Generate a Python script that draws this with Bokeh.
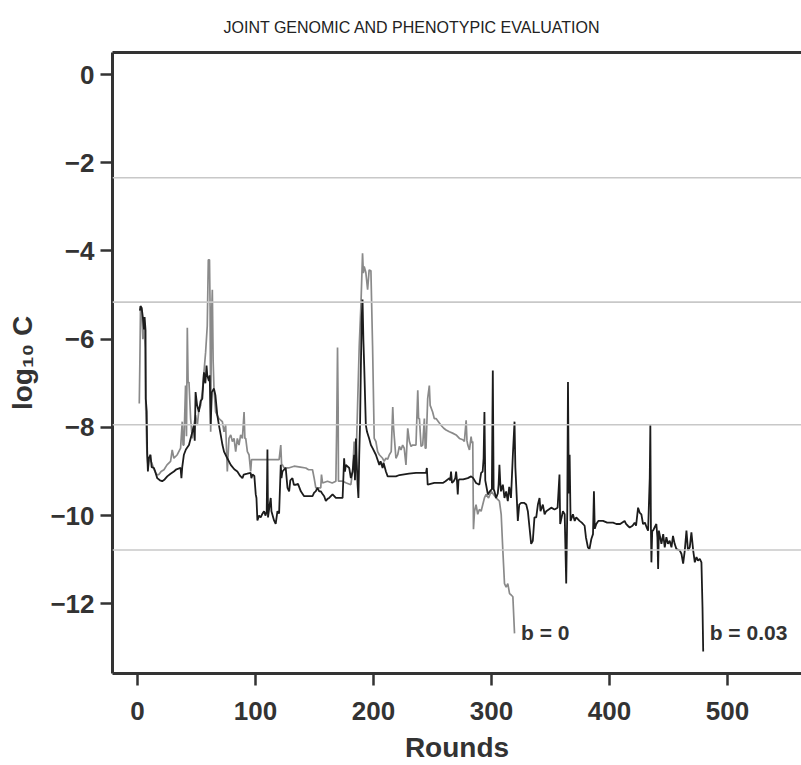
from bokeh.plotting import figure
from bokeh.models import LinearAxis, FixedTicker, Span, Label, ColumnDataSource
from bokeh.embed import file_html
from bokeh.resources import INLINE

# ---------------- data ----------------
rounds_b0 = [1.5, 2.0, 2.5, 3.5, 4.5, 5.5, 6.5, 7.0, 8.0, 9.0, 10.0, 12.0, 14.0, 16.0, 18.1, 20.0,
             22.4, 25.0, 28.0, 29.4, 30.8, 33.7, 36.5, 37.9, 38.6, 39.3, 40.7, 41.5, 42.2, 42.9,
             43.6, 45.0, 46.4, 47.8, 49.2, 50.7, 52.0, 53.5, 54.9, 56.3, 57.7, 59.1, 60.0, 61.0,
             61.5, 62.0, 62.7, 63.4, 64.1, 64.8, 66.2, 69.0, 71.9, 73.3, 74.7, 76.1, 77.5, 79.0,
             80.4, 81.8, 83.2, 84.6, 86.0, 87.4, 88.9, 90.3, 91.0, 91.7, 93.1, 94.5, 95.9, 96.6,
             97.4, 100.2, 104.4, 110.0, 115.0, 120.0, 121.4, 122.1, 122.8, 124.2, 128.0, 132.7,
             138.0, 142.6, 145.0, 148.3, 149.7, 151.1, 155.3, 155.9, 156.8, 161.0, 165.0, 168.1,
             168.9, 169.5, 170.0, 170.3, 173.8, 177.0, 180.8, 182.3, 183.6, 184.3, 185.1, 186.5,
             187.9, 189.3, 190.7, 191.4, 192.1, 193.5, 195.0, 196.3, 197.8, 199.2, 200.6, 202.0,
             203.5, 204.9, 207.7, 209.0, 210.5, 212.0, 213.4, 215.0, 216.3, 217.0, 217.7, 219.0,
             220.5, 221.9, 223.3, 224.7, 226.0, 227.5, 229.0, 230.4, 231.8, 233.2, 236.0, 237.5,
             238.2, 238.9, 240.3, 241.7, 243.1, 243.8, 244.5, 245.9, 247.3, 248.0, 249.0, 250.1,
             251.5, 253.0, 255.0, 257.2, 259.5, 261.5, 264.3, 267.0, 270.0, 272.8, 275.7, 277.0,
             278.5, 279.2, 279.9, 281.3, 282.7, 283.4, 284.1, 284.7, 285.6, 286.9, 288.3, 289.7,
             291.2, 292.6, 294.0, 295.4, 297.5, 299.7, 301.8, 303.9, 306.7, 308.2, 309.6, 311.0,
             312.4, 313.8, 315.3, 316.7, 318.1, 319.5]
logc_b0 = [-7.46, -6.5, -5.35, -5.3, -6.0, -5.7, -6.2, -7.6, -8.6, -8.9, -8.7, -8.8, -8.95, -9.07, -9.07, -9.0,
           -8.96, -8.85, -8.77, -8.51, -8.7, -8.62, -8.47, -7.87, -8.4, -8.4, -7.05, -8.2, -5.74, -7.0,
           -6.97, -7.80, -8.25, -7.95, -7.72, -7.95, -7.6, -7.5, -7.20, -6.75, -6.30, -5.70, -4.20, -4.20,
           -5.25, -8.10, -5.5, -4.88, -6.5, -7.12, -7.65, -7.80, -7.87, -8.10, -7.95, -9.0, -8.25, -8.17,
           -8.32, -8.25, -8.55, -8.25, -8.40, -8.17, -8.25, -7.65, -8.25, -8.25, -8.55, -8.62, -9.0, -8.73,
           -8.73, -8.73, -8.73, -8.73, -8.73, -8.73, -8.40, -8.85, -8.85, -8.92, -8.92, -8.88,
           -8.90, -8.92, -8.96, -8.96, -9.15, -9.37, -9.37, -9.07, -9.26, -9.22, -9.26, -9.22,
           -7.80, -6.19, -7.5, -9.22, -9.22, -9.26, -9.30, -9.0, -8.32, -8.85, -8.85, -7.50,
           -6.15, -5.25, -4.05, -4.5, -4.35, -4.49, -4.88, -4.43, -4.45, -6.15, -8.25, -8.32,
           -8.55, -8.62, -8.70, -8.77, -8.70, -8.72, -8.62, -8.55, -7.54, -8.0, -8.25, -8.70,
           -8.62, -8.43, -8.51, -8.40, -8.47, -8.85, -8.02, -8.32, -8.43, -8.40, -8.40, -7.16,
           -7.8, -7.80, -8.43, -8.40, -7.80, -8.47, -8.47, -7.35, -7.05, -7.5, -7.57, -7.65,
           -7.80, -7.80, -7.87, -7.95, -8.02, -8.06, -8.10, -8.13, -8.17, -8.25, -8.28, -8.32,
           -7.84, -8.3, -8.40, -8.51, -8.21, -8.35, -8.32, -10.31, -9.90, -9.75, -9.97, -9.86,
           -9.90, -9.75, -9.60, -9.52, -9.60, -9.45, -9.52, -9.60, -9.67, -9.97, -10.79, -11.54,
           -11.62, -11.54, -11.77, -11.80, -11.84, -12.67]

rounds_b003 = [2.0, 2.5, 3.5, 4.5, 5.5, 6.0, 6.8, 7.0, 7.8, 8.2, 8.8, 9.6, 11.0, 12.0, 13.9, 15.0, 16.7,
               19.0, 20.9, 23.0, 25.2, 28.0, 30.8, 33.0, 36.5, 37.2, 37.9, 39.3, 41.0, 43.6, 45.0, 46.5,
               47.8, 48.5, 49.2, 50.5, 52.0, 53.5, 54.9, 56.3, 57.5, 58.5, 59.1, 60.5, 61.2, 62.0, 63.0,
               64.8, 66.0, 67.6, 69.0, 70.5, 72.0, 73.3, 76.1, 79.0, 82.0, 84.6, 87.0, 88.9, 90.0, 93.0,
               95.9, 96.5, 97.5, 99.0, 100.2, 100.8, 101.6, 103.0, 104.4, 106.0, 107.2, 108.5, 109.5,
               110.1, 110.6, 112.0, 112.9, 113.5, 115.7, 117.1, 118.6, 120.0, 121.4, 122.0, 122.8,
               125.6, 127.1, 128.5, 129.5, 131.3, 132.5, 134.1, 136.0, 138.4, 141.2, 145.0, 148.3,
               149.7, 151.0, 152.5, 154.0, 155.3, 156.5, 158.2, 159.6, 161.0, 162.4, 165.3, 168.1,
               171.0, 173.8, 175.1, 175.8, 176.6, 179.4, 180.8, 182.3, 183.6, 184.3, 185.1, 186.5,
               187.2, 187.9, 188.6, 189.3, 190.0, 190.7, 191.4, 192.1, 193.5, 194.5, 196.3, 197.8,
               199.2, 202.0, 204.9, 206.0, 207.7, 208.5, 210.5, 212.0, 215.0, 219.0, 222.0, 224.7,
               230.0, 236.0, 240.0, 244.5, 245.2, 245.9, 251.5, 258.7, 261.0, 264.3, 265.0, 265.7,
               266.5, 268.0, 269.3, 270.0, 270.7, 271.4, 272.0, 272.8, 276.0, 279.9, 282.7, 284.5,
               286.9, 289.7, 291.2, 292.5, 293.3, 294.0, 294.7, 295.4, 296.9, 298.5, 300.3, 301.1,
               301.8, 302.5, 303.9, 305.3, 306.0, 306.7, 307.4, 308.0, 309.6, 311.0, 312.4, 313.8,
               315.0, 316.5, 318.1, 319.5, 320.2, 320.9, 322.3, 323.5, 325.1, 327.5, 329.4, 330.8,
               332.2, 333.6, 335.0, 336.4, 337.9, 339.3, 340.7, 341.5, 343.5, 345.0, 346.4, 348.5,
               350.6, 353.4, 356.0, 357.6, 358.2, 360.5, 362.0, 363.3, 364.2, 364.8, 365.5, 366.2,
               367.0, 369.0, 370.5, 371.8, 374.6, 376.5, 378.9, 380.0, 381.7, 383.0, 384.6, 386.0,
               386.8, 387.5, 388.8, 390.5, 394.5, 398.0, 403.0, 405.8, 409.0, 412.8, 414.0, 415.5,
               417.1, 419.5, 421.3, 422.5, 424.2, 425.5, 427.0, 428.4, 430.0, 431.5, 432.7, 434.1,
               434.6, 435.1, 435.5, 436.2, 436.9, 438.2, 439.7, 440.6, 441.2, 441.8, 443.0, 444.0,
               445.5, 446.8, 448.2, 449.5, 451.0, 452.5, 453.8, 455.2, 456.7, 459.5, 461.0, 462.4,
               463.8, 465.2, 466.5, 468.0, 469.4, 470.9, 472.3, 473.7, 475.0, 476.5, 477.9, 478.8,
               479.4]
logc_b003 = [-5.35, -5.25, -5.29, -5.5, -5.78, -5.5, -5.8, -7.35, -7.64, -8.55, -9.0, -8.7, -8.62, -8.9, -8.92, -9.0, -9.15,
             -9.2, -9.22, -9.18, -9.11, -9.05, -9.0, -8.95, -8.92, -9.15, -8.9, -8.62, -8.5, -8.40, -8.25, -8.1,
             -7.95, -8.3, -7.20, -7.5, -7.65, -7.4, -7.35, -6.75, -7.0, -6.6, -6.82, -6.95, -6.82, -7.95, -7.2,
             -7.12, -7.27, -7.72, -7.95, -8.17, -8.4, -8.55, -8.70, -8.85, -8.95, -9.0, -9.1, -9.15, -9.07, -9.05,
             -9.03, -9.15, -9.07, -9.1, -9.52, -9.6, -10.11, -10.0, -10.04, -9.95, -9.9, -10.0, -9.9,
             -8.5, -10.04, -9.75, -9.6, -9.9, -10.11, -10.19, -9.9, -9.95, -8.85, -9.15, -9.0,
             -8.92, -9.37, -9.45, -9.2, -9.15, -9.3, -9.3, -9.28, -9.45, -9.56, -9.56, -9.56,
             -9.48, -9.45, -9.37, -9.45, -9.45, -9.5, -9.56, -9.67, -9.62, -9.6, -9.52, -9.6,
             -9.6, -9.6, -8.70, -9.0, -8.85, -8.92, -9.15, -9.0, -8.62, -9.2, -8.25, -9.3,
             -9.6, -8.62, -7.9, -6.6, -5.5, -5.1, -6.0, -6.6, -7.95, -8.1, -8.25, -8.4,
             -8.47, -8.62, -8.85, -8.77, -8.92, -8.8, -9.0, -9.11, -9.11, -9.11, -9.08, -9.07,
             -9.05, -9.03, -9.03, -9.03, -8.92, -9.30, -9.26, -9.26, -9.22, -9.15, -9.2, -9.0,
             -9.26, -9.22, -9.15, -9.0, -9.2, -9.52, -9.2, -9.18, -9.18, -9.15, -9.11, -9.15,
             -9.26, -9.30, -9.03, -9.0, -8.7, -7.65, -9.2, -9.30, -9.52, -9.45, -9.4, -6.71,
             -9.4, -9.45, -9.60, -9.5, -9.3, -8.85, -9.25, -9.45, -9.30, -9.6, -9.45, -9.67,
             -9.35, -9.6, -8.62, -7.87, -8.9, -9.3, -10.12, -9.75, -9.71, -9.71, -9.75, -9.90,
             -10.27, -10.64, -10.57, -10.04, -10.04, -9.75, -9.60, -9.9, -9.75, -9.97, -9.90, -9.86,
             -9.82, -9.86, -9.82, -9.07, -10.19, -9.90, -9.97, -11.54, -9.9, -6.97, -9.5, -8.62,
             -10.12, -9.97, -10.12, -10.04, -10.12, -10.16, -10.23, -10.49, -10.72, -10.76, -10.53, -10.42,
             -9.45, -10.3, -10.19, -10.12, -10.12, -10.16, -10.16, -10.19, -10.19, -10.12, -10.19, -10.23,
             -10.27, -10.23, -10.16, -10.23, -9.82, -9.93, -9.97, -10.19, -10.16, -10.27, -10.34, -9.15,
             -7.95, -10.3, -11.06, -10.34, -10.34, -10.27, -10.19, -10.5, -11.21, -10.34, -10.5, -10.64,
             -10.42, -10.72, -10.49, -10.64, -10.57, -10.72, -10.46, -10.64, -10.76, -10.79, -10.87, -11.09,
             -10.79, -10.34, -10.79, -10.72, -10.38, -10.79, -11.06, -10.94, -11.02, -10.98, -11.06, -12.07,
             -13.08]

series_names = ["b = 0", "b = 0.03"]
ref_levels = [-2.34, -5.16, -7.94, -10.78]
y_ticks = [0, -2, -4, -6, -8, -10, -12]
x_ticks = [0, 100, 200, 300, 400, 500]
title_text = "JOINT GENOMIC AND PHENOTYPIC EVALUATION"

# ---------------- figure ----------------
FONT = "Liberation Sans"
AXC = "#333333"

p = figure(width=801, height=765, output_backend="svg", toolbar_location=None,
           x_range=(-21.2, 562.7), y_range=(-13.58, 0.50),
           min_border_left=112, min_border_right=0, min_border_top=52, min_border_bottom=89,
           outline_line_color=None, background_fill_color="white", border_fill_color="white")

p.title.text = title_text
p.title.text_font = FONT
p.title.text_font_style = "normal"
p.title.text_font_size = "16px"
p.title.text_color = "#222222"
p.title.align = "left"
p.title.offset = 111
p.title.standoff = 33

p.xgrid.visible = False
p.ygrid.visible = False

for lvl in ref_levels:
    p.add_layout(Span(location=lvl, dimension="width", line_color="#c8c8c8", line_width=1.6))

src0 = ColumnDataSource(dict(x=rounds_b0, y=logc_b0))
src1 = ColumnDataSource(dict(x=rounds_b003, y=logc_b003))
p.line("x", "y", source=src0, line_color="#8a8a8a", line_width=1.7)
p.line("x", "y", source=src1, line_color="#1c1c1c", line_width=1.8)

# end labels
for name, xs in zip(series_names, [rounds_b0, rounds_b003]):
    p.add_layout(Label(x=xs[-1] + 5.5, y=-12.64, text=name, text_font=FONT,
                       text_font_style="bold", text_font_size="21px", text_color=AXC,
                       text_baseline="alphabetic", text_align="left"))

# axes styling
xa = p.xaxis[0]
xa.ticker = FixedTicker(ticks=x_ticks)
xa.axis_label = "Rounds"
ya = p.yaxis[0]
ya.ticker = FixedTicker(ticks=y_ticks)
ya.axis_label = "log\u2081\u2080 C"
ya.major_label_overrides = {t: (str(t).replace("-", "\u2212")) for t in y_ticks}

for ax in (xa, ya):
    ax.axis_line_color = AXC
    ax.axis_line_width = 3
    ax.major_tick_line_color = AXC
    ax.major_tick_line_width = 2.5
    ax.major_tick_in = 0
    ax.major_tick_out = 12
    ax.minor_tick_line_color = None
    ax.major_label_text_font = FONT
    ax.major_label_text_font_style = "bold"
    ax.major_label_text_font_size = "26px"
    ax.major_label_text_color = AXC
    ax.axis_label_text_font = FONT
    ax.axis_label_text_font_style = "bold"
    ax.axis_label_text_font_size = "28px"
    ax.axis_label_text_color = AXC

xa.major_label_standoff = 16
xa.axis_label_standoff = 9
ya.major_label_standoff = 6
ya.axis_label_standoff = 9

top = LinearAxis(ticker=FixedTicker(ticks=[]), axis_line_color=AXC, axis_line_width=3,
                 major_tick_line_color=None, minor_tick_line_color=None,
                 major_label_text_font_size="0px", major_label_standoff=0,
                 major_tick_out=0, major_tick_in=0, minor_tick_out=0, minor_tick_in=0)
p.add_layout(top, "above")

open("out.html", "w").write(file_html(p, INLINE))
